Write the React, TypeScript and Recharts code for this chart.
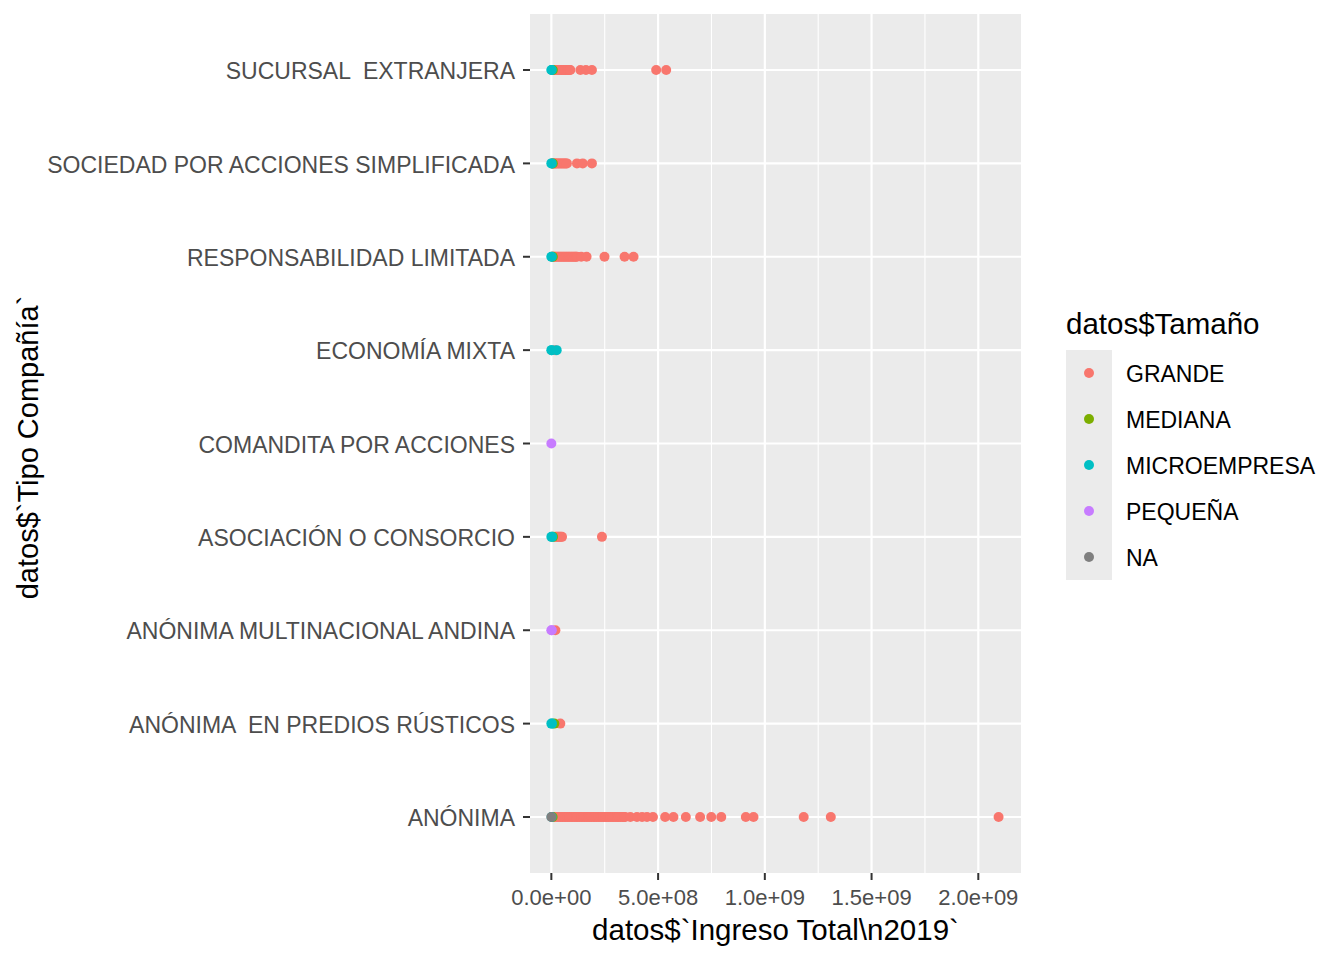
import {
  ScatterChart,
  Scatter,
  XAxis,
  YAxis,
  CartesianGrid,
  Legend,
} from 'recharts'

// categories bottom -> top (y = index + 1)
const categories = [
  'ANÓNIMA',
  'ANÓNIMA  EN PREDIOS RÚSTICOS',
  'ANÓNIMA MULTINACIONAL ANDINA',
  'ASOCIACIÓN O CONSORCIO',
  'COMANDITA POR ACCIONES',
  'ECONOMÍA MIXTA',
  'RESPONSABILIDAD LIMITADA',
  'SOCIEDAD POR ACCIONES SIMPLIFICADA',
  'SUCURSAL  EXTRANJERA',
]

// Ingreso total 2019, in millions, one list per category (same order as above)
const grande = [
  [5, 12, 20, 28, 36, 44, 52, 60, 68, 76, 84, 92, 100, 108, 116, 124, 132, 140, 148, 156, 164,
    172, 180, 188, 196, 204, 212, 220, 228, 236, 244, 252, 260, 268, 276, 284, 292, 300, 308,
    316, 324, 332, 340, 346, 370, 401, 425, 448, 476, 533, 572, 630, 697, 749, 796, 911, 947,
    1182, 1309, 2095],
  [42],
  [19],
  [20, 26, 32, 38, 44, 50, 237],
  [],
  [18],
  [5, 10, 15, 20, 26, 32, 38, 44, 50, 56, 62, 68, 74, 80, 86, 92, 98, 104, 110, 115, 120, 140,
    165, 249, 343, 385],
  [5, 10, 15, 20, 26, 32, 38, 44, 50, 56, 62, 68, 73, 120, 147, 190],
  [5, 10, 15, 20, 26, 32, 38, 44, 50, 56, 62, 68, 74, 80, 85, 89, 136, 162, 190, 491, 538],
]
const mediana = [[6], [14], [], [8], [], [], [7], [7], [7]]
const microempresa = [[1], [0, 3], [], [0, 4], [], [0, 2, 25], [0, 2], [0, 2], [0, 2]]
const pequena = [[], [], [0, 2], [], [0], [], [], [], []]
const sinDato = [[0], [], [], [], [], [], [], [], []]

const xTicks = [0, 500, 1000, 1500, 2000]
const xMinor = [250, 750, 1250, 1750]
const yTicks = [1, 2, 3, 4, 5, 6, 7, 8, 9]

const series = [
  { name: 'GRANDE', color: '#F8766D', values: grande },
  { name: 'MEDIANA', color: '#7CAE00', values: mediana },
  { name: 'MICROEMPRESA', color: '#00BFC4', values: microempresa },
  { name: 'PEQUEÑA', color: '#C77CFF', values: pequena },
  { name: 'NA', color: '#7F7F7F', values: sinDato },
]
const legendOrder = series.map((s) => s.name)

const FONT = '"Liberation Sans", Arial, sans-serif'

const toPoints = (values: number[][]) =>
  values.flatMap((row, i) => row.map((v) => ({ x: v, y: i + 1 })))

const sci = (v: number) => {
  const [m, e] = (v * 1e6).toExponential(1).split('e')
  const n = Number(e)
  return `${m}e${n < 0 ? '-' : '+'}${String(Math.abs(n)).padStart(2, '0')}`
}

const YTick = ({ x, y, payload }: any) => (
  <text
    x={x}
    y={y}
    dy="0.4em"
    textAnchor="end"
    fill="#4D4D4D"
    fontSize={23}
    fontFamily={FONT}
    style={{ whiteSpace: 'pre' }}
  >
    {categories[payload.value - 1]}
  </text>
)

const YTitle = ({ viewBox }: any) => {
  const cx = 28
  const cy = viewBox.y + viewBox.height / 2 + 4
  return (
    <text
      x={cx}
      y={cy}
      transform={`rotate(-90 ${cx} ${cy})`}
      textAnchor="middle"
      dominantBaseline="central"
      fontSize={29}
      fontFamily={FONT}
      fill="#000"
    >
      {'datos$`Tipo Compañía`'}
    </text>
  )
}

const LegendBox = ({ payload }: any) => {
  const items = [...(payload || [])].sort(
    (a: any, b: any) => legendOrder.indexOf(a.value) - legendOrder.indexOf(b.value),
  )
  return (
    <div style={{ fontFamily: FONT, color: '#000' }}>
      <div style={{ height: 41, lineHeight: '29px', fontSize: 29.5 }}>datos$Tamaño</div>
      {items.map((item: any) => (
        <div key={item.value} style={{ display: 'flex', alignItems: 'center', height: 46 }}>
          <div
            style={{
              width: 46,
              height: 46,
              background: '#EBEBEB',
              display: 'flex',
              alignItems: 'center',
              justifyContent: 'center',
            }}
          >
            <div style={{ width: 10, height: 10, borderRadius: 5, background: item.color }} />
          </div>
          <span style={{ marginLeft: 14, fontSize: 23, paddingTop: 3 }}>{item.value}</span>
        </div>
      ))}
    </div>
  )
}

export default function App() {
  return (
    <div style={{ position: 'fixed', left: 0, top: 0, width: 1344, height: 960, background: '#fff' }}>
      <ScatterChart
        width={1344}
        height={960}
        margin={{ top: 14, right: 323, bottom: 0, left: 0 }}
        style={{ fontFamily: FONT }}
      >
        <CartesianGrid
          fill="#EBEBEB"
          stroke="#FFFFFF"
          strokeWidth={1.1}
          horizontal={false}
          verticalValues={xMinor}
        />
        <CartesianGrid
          stroke="#FFFFFF"
          strokeWidth={2.2}
          verticalValues={xTicks}
          horizontalValues={yTicks}
        />
        <XAxis
          dataKey="x"
          type="number"
          domain={[-100, 2200]}
          ticks={xTicks}
          allowDataOverflow
          tickFormatter={sci}
          height={87}
          axisLine={false}
          tickLine={{ stroke: '#333333', strokeWidth: 2 }}
          tickSize={7}
          tickMargin={9}
          tick={{ fontSize: 22, fill: '#4D4D4D', fontFamily: FONT }}
          label={{
            value: 'datos$`Ingreso Total\\n2019`',
            position: 'insideBottom',
            offset: 20,
            fontSize: 29.5,
            fill: '#000',
            fontFamily: FONT,
          }}
        />
        <YAxis
          dataKey="y"
          type="number"
          domain={[0.4, 9.6]}
          ticks={yTicks}
          allowDataOverflow
          width={530}
          axisLine={false}
          tickLine={{ stroke: '#333333', strokeWidth: 2 }}
          tickSize={7}
          tickMargin={8}
          tick={<YTick />}
          label={<YTitle />}
        />
        <Legend
          layout="vertical"
          align="center"
          verticalAlign="middle"
          content={<LegendBox />}
          wrapperStyle={{ position: 'absolute', left: 1066, top: 309, width: 275, height: 280 }}
        />
        {series.map((s) => (
          <Scatter
            key={s.name}
            name={s.name}
            data={toPoints(s.values)}
            fill={s.color}
            isAnimationActive={false}
            shape={(p: any) => <circle cx={p.cx} cy={p.cy} r={5} fill={s.color} />}
          />
        ))}
      </ScatterChart>
    </div>
  )
}
